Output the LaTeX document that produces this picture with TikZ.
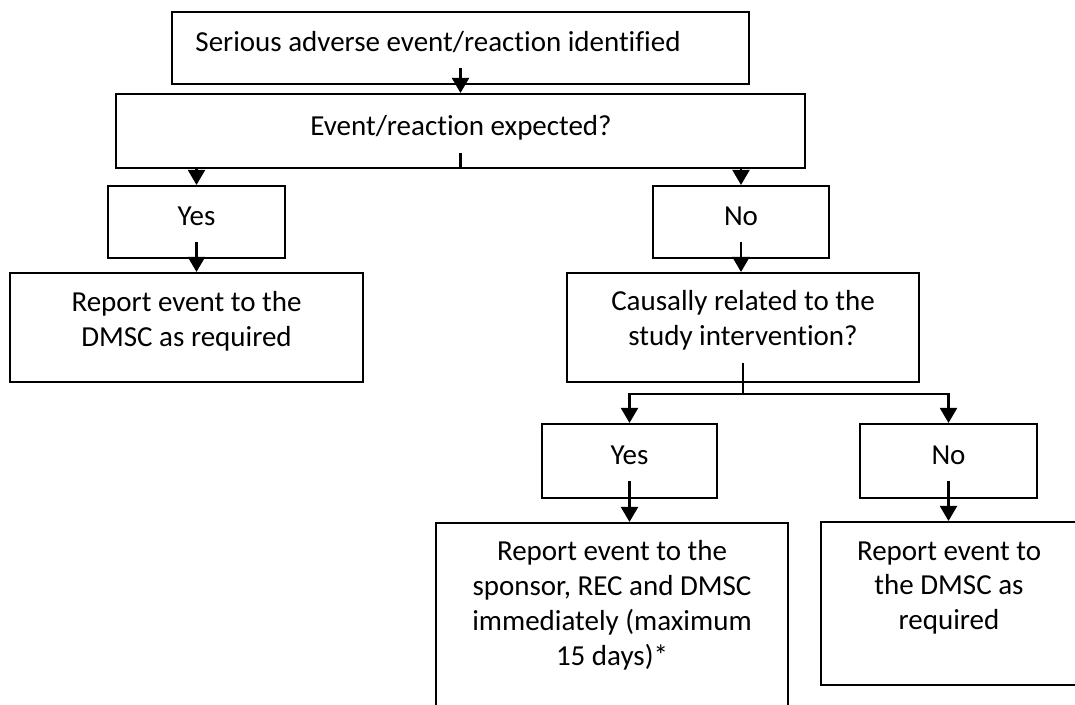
\documentclass[tikz,border=0pt]{standalone}
\usepackage{fontspec}
\setmainfont{Carlito}[Ligatures=CommonOff]
\usetikzlibrary{arrows.meta}

\tikzset{
  box/.style={draw, line width=1.2pt, inner sep=0pt},
  txt/.style={align=center, inner sep=0pt, font=\fontsize{16.5}{19.9}\selectfont},
  arr/.style={line width=1.2pt, -{Triangle[length=0.3cm,width=0.34cm]}},
  stub/.style={line width=1.2pt}
}

\begin{document}
\begin{tikzpicture}[x=0.02cm, y=-0.02cm]
        \clip (0,0) rectangle (1075,705);

        \node[box, minimum width=11.54cm, minimum height=1.44cm] (sae) at (460.5,48) {};
        \node[box, minimum width=13.78cm, minimum height=1.48cm] (expect) at (460.5,131) {};
        \node[box, minimum width=3.54cm, minimum height=1.44cm] (yesA) at (196.5,222) {};
        \node[box, minimum width=3.52cm, minimum height=1.44cm] (noA) at (741,222) {};
        \node[box, minimum width=7.06cm, minimum height=2.18cm] (reportA) at (186.5,327.5) {};
        \node[box, minimum width=7.04cm, minimum height=2.18cm] (causal) at (743,327.5) {};
        \node[box, minimum width=3.5cm, minimum height=1.48cm] (yesB) at (629.5,461) {};
        \node[box, minimum width=3.54cm, minimum height=1.48cm] (noB) at (948.5,461) {};
        \node[box, minimum width=7.04cm, minimum height=3.94cm] (reportB) at (612,621.5) {};
        \node[box, minimum width=5.12cm, minimum height=3.26cm] (reportC) at (949,603.5) {};

        \node[txt] (sae-t) at (438,42) {Serious adverse event/reaction identified};
        \node[txt] (expect-t) at (461,128) {Event/reaction expected?};
        \node[txt] (yesA-t) at (196.5,216) {Yes};
        \node[txt] (noA-t) at (741,216) {No};
        \node[txt] (reportA-t) at (186.5,321) {Report event to the\\DMSC as required};
        \node[txt] (causal-t) at (743,320) {Causally related to the\\study intervention?};
        \node[txt] (yesB-t) at (629.5,455) {Yes};
        \node[txt] (noB-t) at (948.5,455) {No};
        \node[txt] (reportB-t) at (612,605) {Report event to the\\sponsor, REC and DMSC\\immediately (maximum\\15 days)*};
        \node[txt] (reportC-t) at (949,588) {Report event to\\the DMSC as\\required};

        \draw[arr] (sae.south) ++(0,-17) -- (expect.north);
        \draw[stub] (expect.south) ++(0,-16) -- (expect.south);
        \draw[arr] (yesA.north |- expect.south) -- (yesA.north);
        \draw[arr] (noA.north |- expect.south) -- (noA.north);
        \draw[arr] (yesA.south) ++(0,-17) -- (reportA.north -| yesA.south);
        \draw[arr] (noA.south) ++(0,-17) -- (causal.north -| noA.south);
        \draw[stub] (causal.south) ++(0,-20) -- ++(0,31) coordinate (split);
        \draw[arr] (split) -| (yesB.north);
        \draw[arr] (split) -| (noB.north);
        \draw[arr] (yesB.south) ++(0,-18) -- (reportB.north -| yesB.south);
        \draw[arr] (noB.south) ++(0,-18) -- (reportC.north -| noB.south);

\end{tikzpicture}
\end{document}
